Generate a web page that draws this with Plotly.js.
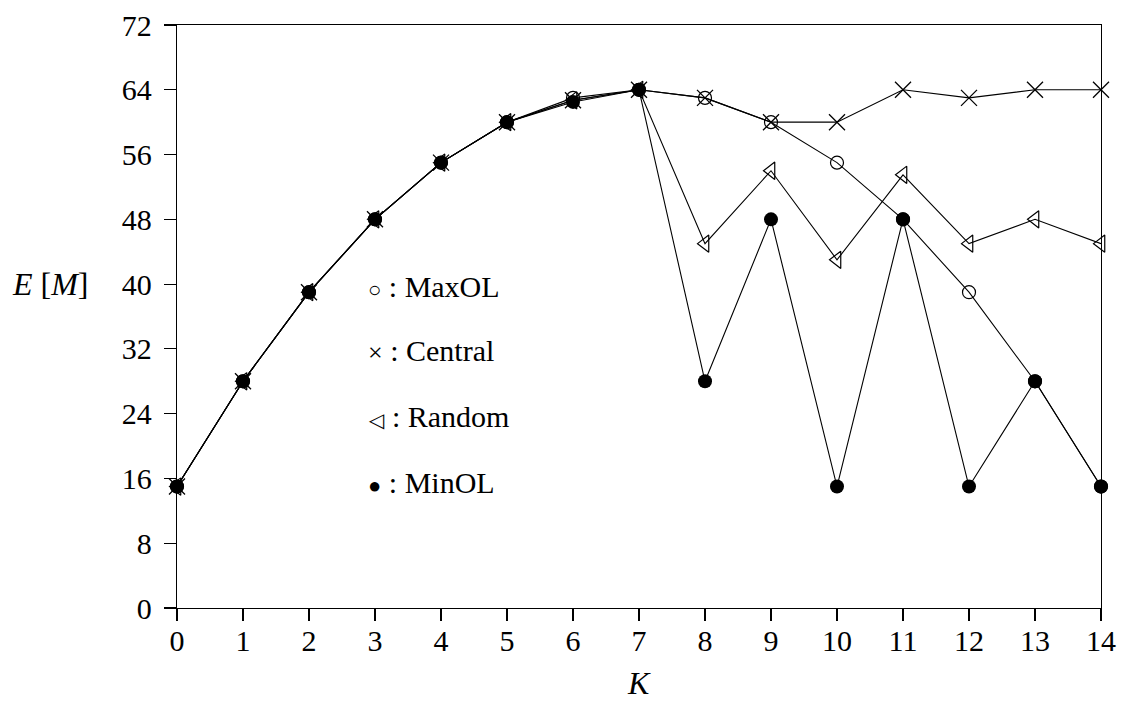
<!DOCTYPE html>
<html>
<head>
<meta charset="utf-8">
<script src="https://cdn.plot.ly/plotly-3.0.1.min.js"></script>
<style>html,body{margin:0;padding:0;background:#fff;}</style>
</head>
<body>
<div id="chart" style="width:1121px;height:706px;"></div>
<script>
const K = [0,1,2,3,4,5,6,7,8,9,10,11,12,13,14];
const maxOL   = [15,28,39,48,55,60,63,64,63,60,55,48,39,28,15];
const central = [15,28,39,48,55,60,62.7,64,63,60,60,64,63,64,64];
const random  = [15,28,39,48,55,60,62.7,64,45,54,43,53.5,45,48,45];
const minOL   = [15,28,39,48,55,60,62.5,64,28,48,15,48,15,28,15];
const yTicks = [0,8,16,24,32,40,48,56,64,72];
const legendSymbols = ["○", "×", "◁", "●"];
const legendSymbolSizes = [22, 26, 20, 22];
const legendLabels = ["MaxOL", "Central", "Random", "MinOL"];
const legendY = [39.7, 31.8, 23.6, 15.5];

const FONT = "Liberation Serif, DejaVu Serif, serif";
const line = {color: "#000", width: 1.1};
const traces = [
  {x: K, y: maxOL, mode: "lines+markers", line: line, cliponaxis: false,
   marker: {symbol: "circle-open", size: 13, color: "#000", line: {width: 1.2}}},
  {x: K, y: central, mode: "lines+markers", line: line, cliponaxis: false,
   marker: {symbol: "x-thin-open", size: 16, color: "#000", line: {width: 1.3}}},
  {x: K, y: random, mode: "lines+markers", line: line, cliponaxis: false,
   marker: {symbol: "triangle-left-open", size: 15, color: "#000", line: {width: 1.2}}},
  {x: K, y: minOL, mode: "lines+markers", line: line, cliponaxis: false,
   marker: {symbol: "circle", size: 14, color: "#000"}}
];

const annotations = legendLabels.map((t, i) => ({
  x: 2.86, y: legendY[i], xref: "x", yref: "y",
  text: '<span style="font-size:' + legendSymbolSizes[i] + 'px">' + legendSymbols[i] + '</span> : ' + t,
  showarrow: false, xanchor: "left", yanchor: "middle",
  font: {family: FONT, size: 30, color: "#000"}
}));
annotations.push({
  x: -0.137, y: 0.555, xref: "paper", yref: "paper", text: "<i>E</i> [<i>M</i>]",
  showarrow: false, xanchor: "center", yanchor: "middle",
  font: {family: FONT, size: 32, color: "#000"}
});
annotations.push({
  x: 0.5, y: -0.128, xref: "paper", yref: "paper", text: "<i>K</i>",
  showarrow: false, xanchor: "center", yanchor: "middle",
  font: {family: FONT, size: 32, color: "#000"}
});

const layout = {
  width: 1121, height: 706,
  margin: {l: 177, r: 20, t: 25, b: 98},
  showlegend: false,
  paper_bgcolor: "#fff", plot_bgcolor: "#fff",
  font: {family: FONT, color: "#000"},
  xaxis: {
    range: [0, 14], tickvals: K, ticktext: K.map(String),
    showgrid: false, zeroline: false, showline: true, mirror: true,
    linecolor: "#000", linewidth: 1.3, ticks: "outside", ticklen: 12, tickwidth: 1.2,
    tickcolor: "#000", tickfont: {family: FONT, size: 30, color: "#000"},
    ticklabelstandoff: -6
  },
  yaxis: {
    range: [0, 72], tickvals: yTicks, ticktext: yTicks.map(String),
    showgrid: false, zeroline: false, showline: true, mirror: true,
    linecolor: "#000", linewidth: 1.3, ticks: "outside", ticklen: 12, tickwidth: 1.2,
    tickcolor: "#000", tickfont: {family: FONT, size: 30, color: "#000"},
    ticklabelstandoff: 6
  },
  annotations: annotations
};
Plotly.newPlot("chart", traces, layout, {displayModeBar: false, staticPlot: true});
</script>
</body>
</html>
